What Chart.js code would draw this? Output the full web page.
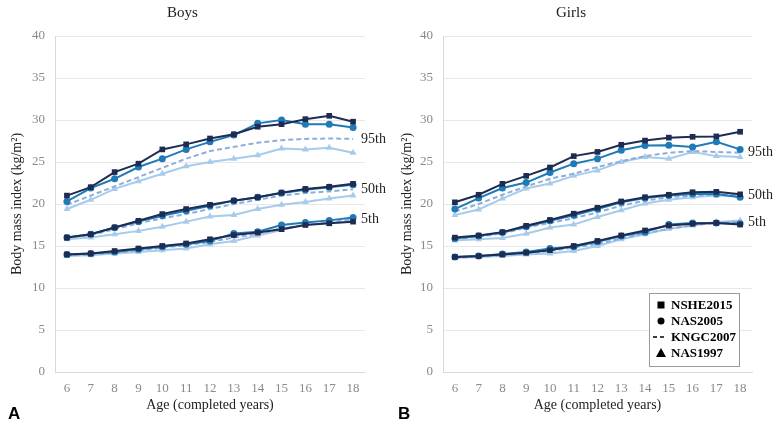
<!DOCTYPE html>
<html lang="en">
<head>
    <meta charset="UTF-8">
    <title>BMI percentiles</title>
    <script type="text/javascript" src="https://cdn.jsdelivr.net/npm/chart.js@4.4.1/dist/chart.umd.min.js"></script>
    <style type="text/css">
        html, body {
            margin: 0; padding: 0; background: #fff;
        }
        #boys, #girls {
            position: absolute; top: 0;
        }
        #boys { left: 0; }
        #girls { left: 390px; }
    </style>
</head>

<body>
    <canvas id="boys" width="390" height="426"></canvas>
    <canvas id="girls" width="388" height="426"></canvas>

    <script>
        // Ages on the x axis
        const ages = ['6', '7', '8', '9', '10', '11', '12', '13', '14', '15', '16', '17', '18'];
        const yTicks = [0, 5, 10, 15, 20, 25, 30, 35, 40];
        const percentiles = ['5th', '50th', '95th'];
        const studies = ['NSHE2015', 'NAS2005', 'KNGC2007', 'NAS1997'];

        // Boys
        const boysNSHE2015_p95 = [21.0, 22.0, 23.8, 24.8, 26.5, 27.1, 27.8, 28.3, 29.2, 29.5, 30.1, 30.5, 29.8];
        const boysNAS2005_p95  = [20.3, 21.9, 23.0, 24.4, 25.4, 26.5, 27.4, 28.2, 29.6, 30.0, 29.5, 29.5, 29.1];
        const boysKNGC2007_p95 = [19.9, 21.0, 22.1, 23.2, 24.3, 25.4, 26.3, 26.8, 27.3, 27.6, 27.75, 27.8, 27.75];
        const boysNAS1997_p95  = [19.4, 20.5, 21.8, 22.7, 23.6, 24.5, 25.0, 25.4, 25.8, 26.6, 26.5, 26.7, 26.1];

        const boysNSHE2015_p50 = [16.0, 16.4, 17.2, 18.0, 18.8, 19.4, 19.9, 20.4, 20.8, 21.35, 21.8, 22.05, 22.4];
        const boysNAS2005_p50  = [16.0, 16.4, 17.2, 17.9, 18.6, 19.2, 19.8, 20.4, 20.8, 21.3, 21.7, 22.0, 22.3];
        const boysKNGC2007_p50 = [16.0, 16.3, 17.0, 17.7, 18.3, 18.8, 19.4, 20.0, 20.5, 21.0, 21.3, 21.5, 21.75];
        const boysNAS1997_p50  = [15.8, 16.0, 16.4, 16.8, 17.3, 17.9, 18.5, 18.7, 19.4, 19.9, 20.25, 20.65, 21.0];

        const boysNSHE2015_p5 = [14.0, 14.1, 14.4, 14.7, 15.0, 15.3, 15.8, 16.3, 16.6, 17.0, 17.5, 17.7, 17.9];
        const boysNAS2005_p5  = [14.0, 14.1, 14.3, 14.6, 14.9, 15.2, 15.6, 16.5, 16.7, 17.5, 17.8, 18.05, 18.4];
        const boysKNGC2007_p5 = [13.9, 14.0, 14.2, 14.5, 14.8, 15.1, 15.5, 16.0, 16.45, 17.1, 17.5, 17.8, 18.15];
        const boysNAS1997_p5  = [13.8, 13.9, 14.1, 14.3, 14.5, 14.7, 15.2, 15.6, 16.25, 16.9, 17.55, 17.7, 18.0];

        // Girls
        const girlsNSHE2015_p95 = [20.2, 21.1, 22.4, 23.35, 24.35, 25.7, 26.2, 27.05, 27.55, 27.9, 28.0, 28.05, 28.6];
        const girlsNAS2005_p95  = [19.4, 20.7, 21.9, 22.55, 23.75, 24.8, 25.4, 26.4, 26.95, 27.0, 26.8, 27.4, 26.5];
        const girlsKNGC2007_p95 = [19.1, 20.0, 21.1, 22.1, 23.0, 23.6, 24.4, 25.1, 25.7, 26.1, 26.3, 26.2, 26.1];
        const girlsNAS1997_p95  = [18.7, 19.35, 20.65, 21.85, 22.45, 23.35, 24.0, 25.0, 25.6, 25.4, 26.2, 25.7, 25.6];

        const girlsNSHE2015_p50 = [16.0, 16.25, 16.65, 17.4, 18.1, 18.85, 19.55, 20.3, 20.8, 21.1, 21.4, 21.45, 21.15];
        const girlsNAS2005_p50  = [15.9, 16.2, 16.6, 17.3, 18.0, 18.65, 19.4, 20.2, 20.7, 21.0, 21.2, 21.2, 20.8];
        const girlsKNGC2007_p50 = [15.85, 16.1, 16.5, 17.2, 17.75, 18.3, 19.0, 19.8, 20.4, 20.8, 21.0, 21.1, 21.05];
        const girlsNAS1997_p50  = [15.65, 15.8, 15.95, 16.45, 17.2, 17.55, 18.45, 19.25, 20.05, 20.5, 20.8, 21.0, 20.9];

        const girlsNSHE2015_p5 = [13.7, 13.8, 14.0, 14.2, 14.5, 15.0, 15.6, 16.25, 16.85, 17.45, 17.65, 17.75, 17.55];
        const girlsNAS2005_p5  = [13.7, 13.8, 14.05, 14.3, 14.7, 14.9, 15.5, 16.2, 16.65, 17.55, 17.75, 17.75, 17.65];
        const girlsKNGC2007_p5 = [13.6, 13.7, 13.9, 14.1, 14.4, 14.8, 15.25, 15.9, 16.5, 17.05, 17.45, 17.75, 17.85];
        const girlsNAS1997_p5  = [13.6, 13.7, 13.8, 14.0, 14.1, 14.4, 15.0, 15.8, 16.4, 17.05, 17.45, 17.85, 18.05];

        const SERIF = '"Liberation Serif", "Times New Roman", serif';
        const SANS = '"Liberation Sans", Arial, sans-serif';

        // Style per study, in drawing order (first one ends up on top)
        const styles = {
            NSHE2015: { color: '#1d2c50', point: 'rect', radius: 4, dash: [] },
            NAS2005:  { color: '#1f7ab8', point: 'circle', radius: 3.5, dash: [] },
            KNGC2007: { color: '#8daedb', point: false, radius: 0, dash: [5, 3] },
            NAS1997:  { color: '#a7cbea', point: 'triangle', radius: 4, dash: [] }
        };

        function buildDatasets(series) {
            // series: { study: [p5, p50, p95] }
            const sets = [];
            studies.forEach(study => {
                const st = styles[study];
                series[study].forEach((values, i) => {
                    sets.push({
                        label: study + ' ' + percentiles[i],
                        data: values,
                        borderColor: st.color,
                        backgroundColor: st.color,
                        borderWidth: 2,
                        borderDash: st.dash,
                        pointStyle: st.point,
                        pointRadius: st.radius,
                        pointBorderWidth: 0,
                        tension: 0
                    });
                });
            });
            return sets;
        }

        // Draws percentile names, the panel letter and (optionally) the legend box
        const annotations = {
            id: 'annotations',
            afterDatasetsDraw(chart, args, opts) {
                const ctx = chart.ctx;
                const area = chart.chartArea;
                const y = chart.scales.y;
                ctx.save();
                ctx.fillStyle = '#222';
                ctx.font = '14px ' + SERIF;
                ctx.textAlign = 'left';
                ctx.textBaseline = 'middle';
                opts.labelValues.forEach((v, i) => {
                    ctx.fillText(percentiles[i], area.right - 4, y.getPixelForValue(v));
                });

                ctx.font = 'bold 17px ' + SANS;
                ctx.fillStyle = '#000';
                ctx.fillText(opts.letter, 8, 414);

                if (opts.legend) {
                    const bx = 259, by = 293, bw = 90, bh = 73;
                    ctx.fillStyle = '#fff';
                    ctx.fillRect(bx, by, bw, bh);
                    ctx.strokeStyle = '#9a9a9a';
                    ctx.lineWidth = 1;
                    ctx.strokeRect(bx + 0.5, by + 0.5, bw, bh);
                    ctx.fillStyle = '#000';
                    ctx.strokeStyle = '#000';
                    ctx.font = 'bold 13px ' + SERIF;
                    studies.forEach((study, i) => {
                        const ly = by + 12 + i * 16;
                        const mx = bx + 12;
                        const st = styles[study];
                        if (st.point === 'rect') {
                            ctx.fillRect(mx - 3.5, ly - 3.5, 7, 7);
                        } else if (st.point === 'circle') {
                            ctx.beginPath();
                            ctx.arc(mx, ly, 3.5, 0, Math.PI * 2);
                            ctx.fill();
                        } else if (st.point === 'triangle') {
                            ctx.beginPath();
                            ctx.moveTo(mx, ly - 5);
                            ctx.lineTo(mx + 5, ly + 4);
                            ctx.lineTo(mx - 5, ly + 4);
                            ctx.closePath();
                            ctx.fill();
                        } else {
                            ctx.lineWidth = 1.5;
                            ctx.beginPath();
                            ctx.moveTo(bx + 4, ly); ctx.lineTo(bx + 8, ly);
                            ctx.moveTo(bx + 11, ly); ctx.lineTo(bx + 15, ly);
                            ctx.stroke();
                        }
                        ctx.fillText(study, bx + 22, ly + 1);
                    });
                }
                ctx.restore();
            }
        };

        function makeChart(canvasId, title, series, yWidth, padRight, letter, legend) {
            const canvas = document.getElementById(canvasId);
            return new Chart(canvas, {
                type: 'line',
                data: { labels: ages, datasets: buildDatasets(series) },
                plugins: [annotations],
                options: {
                    responsive: false,
                    animation: false,
                    layout: { padding: { left: 0, right: padRight, top: 0, bottom: 0 } },
                    plugins: {
                        legend: { display: false },
                        tooltip: { enabled: false },
                        title: {
                            display: true, text: title, color: '#222',
                            font: { family: SERIF, size: 15, weight: 'normal' },
                            padding: { top: 4, bottom: 14 }
                        },
                        annotations: {
                            letter: letter,
                            legend: legend,
                            labelValues: series.KNGC2007.map(v => v[v.length - 1])
                        }
                    },
                    scales: {
                        x: {
                            offset: true,
                            grid: { display: false },
                            border: { color: '#d9d9d9' },
                            ticks: { color: '#8a8a8a', font: { family: SERIF, size: 13 }, padding: 1, maxRotation: 0, autoSkip: false },
                            title: {
                                display: true, text: 'Age (completed years)', color: '#222',
                                font: { family: SERIF, size: 14 }, padding: { top: 0, bottom: 12 }
                            },
                            afterFit: s => { s.height = 54; }
                        },
                        y: {
                            min: 0, max: 40,
                            afterBuildTicks: s => { s.ticks = yTicks.map(v => ({ value: v })); },
                            grid: { color: '#e8e8e8', drawTicks: false },
                            border: { color: '#d9d9d9' },
                            ticks: { color: '#8a8a8a', font: { family: SERIF, size: 13 }, padding: 10 },
                            title: {
                                display: true, text: 'Body mass index (kg/m²)', color: '#222',
                                font: { family: SERIF, size: 14 }, padding: { top: 9, bottom: 0 }
                            },
                            afterFit: s => { s.width = yWidth; }
                        }
                    }
                }
            });
        }

        makeChart('boys', 'Boys', {
            NSHE2015: [boysNSHE2015_p5, boysNSHE2015_p50, boysNSHE2015_p95],
            NAS2005: [boysNAS2005_p5, boysNAS2005_p50, boysNAS2005_p95],
            KNGC2007: [boysKNGC2007_p5, boysKNGC2007_p50, boysKNGC2007_p95],
            NAS1997: [boysNAS1997_p5, boysNAS1997_p50, boysNAS1997_p95]
        }, 55, 25, 'A', false);

        makeChart('girls', 'Girls', {
            NSHE2015: [girlsNSHE2015_p5, girlsNSHE2015_p50, girlsNSHE2015_p95],
            NAS2005: [girlsNAS2005_p5, girlsNAS2005_p50, girlsNAS2005_p95],
            KNGC2007: [girlsKNGC2007_p5, girlsKNGC2007_p50, girlsKNGC2007_p95],
            NAS1997: [girlsNAS1997_p5, girlsNAS1997_p50, girlsNAS1997_p95]
        }, 53, 26, 'B', true);
    </script>
</body>

</html>
